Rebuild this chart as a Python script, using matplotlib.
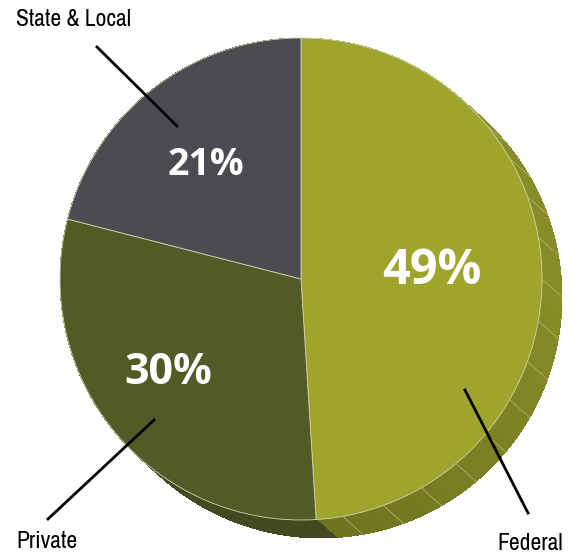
import numpy as np
import matplotlib
matplotlib.use("Agg")
import matplotlib.pyplot as plt
from matplotlib.patches import Polygon
from matplotlib.colors import to_rgb
from matplotlib import font_manager

# datos
etiquetas = ["Federal", "Private", "State & Local"]
valores = [49, 30, 21]
textos_pct = ["49%", "30%", "21%"]
colores_sup = ["#9fa42d", "#525a27", "#4b4c51"]
lado_claro = ["#888c28", "#4a5123", "#3c3d41"]
lado_oscuro = ["#6d731e", "#444a1f", "#3c3d41"]
con_lineas = [True, False, False]

nombres = sorted({f.name for f in font_manager.fontManager.ttflist})
angosta = [n for n in nombres if "Narrow" in n or "Condensed" in n]
fam_lab = angosta[0] if angosta else "Liberation Sans"

W, H = 571, 558
fig = plt.figure(figsize=(W / 100, H / 100), dpi=100)
ax = fig.add_axes([0, 0, 1, 1])

cx, cy, r = 301, H - 279, 241
dx, dy = 20, -18

def borde(a):
    return (cx + r * np.cos(np.radians(a)), cy + r * np.sin(np.radians(a)))

# base del lado: copias desplazadas (borde suave)
medio = [tuple((np.array(to_rgb(a)) + np.array(to_rgb(b))) / 2) for a, b in zip(lado_claro, lado_oscuro)]
for k in np.linspace(1, 0, 30):
    ax.pie(valores, colors=medio, startangle=90, counterclock=False,
           radius=r, center=(cx + dx * k, cy + dy * k),
           wedgeprops=dict(linewidth=0))

# sombreado por facetas
inicio = 90.0
for v, c1, c2, lin in zip(valores, lado_claro, lado_oscuro, con_lineas):
    fin = inicio - 360 * v / 100
    n = max(1, int(np.ceil((inicio - fin) / 2)))
    angs = np.linspace(inicio, fin, n + 1)
    for a1, a2 in zip(angs[:-1], angs[1:]):
        am = (a1 + a2) / 2
        t = np.clip(-am / 90, 0, 1)
        col = (1 - t) * np.array(to_rgb(c1)) + t * np.array(to_rgb(c2))
        p1, p2 = borde(a1), borde(a2)
        ax.add_patch(Polygon([p1, p2, (p2[0] + dx, p2[1] + dy), (p1[0] + dx, p1[1] + dy)],
                             facecolor=col, linewidth=0, antialiased=False))
    if lin:
        for a in np.arange(inicio - 10, fin, -10):
            if a > 45:
                continue
            p = borde(a)
            ax.plot([p[0], p[0] + dx], [p[1], p[1] + dy], color="#b4b77a", lw=0.5)
    inicio = fin

# superficie
ax.pie(valores, colors=colores_sup, startangle=90, counterclock=False,
       radius=r, center=(cx, cy),
       wedgeprops=dict(linewidth=0.6, edgecolor="#d2d4a6"))

# porcentajes
pos_pct = [(432, 272, 35), (168, 373, 31), (206, 165, 27)]
for t, (x, y, s) in zip(textos_pct, pos_pct):
    ax.text(x, H - y, t, color="white", fontsize=s, fontweight="bold",
            ha="center", va="center", family=["Open Sans", "DejaVu Sans"])

# lineas guia y etiquetas
lineas = [((465, 390), (528, 513)), ((154, 420), (48, 519)), ((177, 126), (97, 47))]
pos_lab = [(530, 544), (47, 541), (73, 19)]
for (p0, p1), (lx, ly), lab in zip(lineas, pos_lab, etiquetas):
    ax.plot([p0[0], p1[0]], [H - p0[1], H - p1[1]], color="black", lw=2)
    ax.text(lx, H - ly, lab, fontsize=17, ha="center", va="center",
            family=fam_lab, fontstretch="condensed")

ax.set_xlim(0, W)
ax.set_ylim(0, H)
ax.set_aspect("auto")
ax.axis("off")
fig.savefig("out.png", dpi=100)
